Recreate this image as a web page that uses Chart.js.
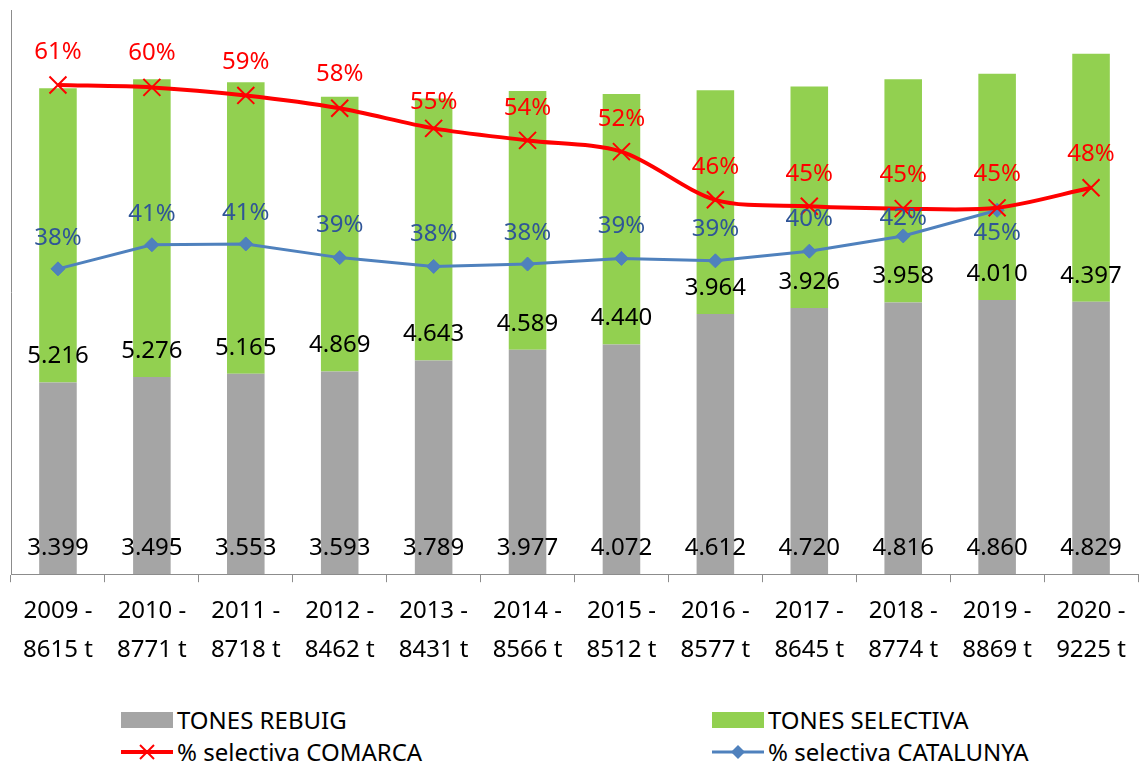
<!DOCTYPE html>
<html>
<head>
<meta charset="utf-8">
<script src="https://cdn.jsdelivr.net/npm/chart.js@4.4.1/dist/chart.umd.min.js"></script>
<style>
  html, body { margin: 0; background: #fff; font-family: "Noto Sans", sans-serif; overflow: hidden; width: 1139px; height: 767px; }
  #caixa { position: absolute; left: 0; top: 0; width: 1139px; height: 680px; }
  .item { position: absolute; height: 30px; display: flex; align-items: center; font-size: 24px; line-height: 30px; color: #000; white-space: nowrap; }
  .item svg { margin-right: 4px; }
</style>
</head>
<body>
<div id="caixa"><canvas id="grafic"></canvas></div>

<!-- llegenda a sota, en dues columnes -->
<div class="item" style="left:121px; top:705px;">
  <svg width="52" height="20"><rect x="0" y="2" width="52" height="16" fill="#A5A5A5"/></svg>TONES REBUIG
</div>
<div class="item" style="left:712px; top:705px;">
  <svg width="52" height="20"><rect x="0" y="2" width="52" height="16" fill="#92D050"/></svg>TONES SELECTIVA
</div>
<div class="item" style="left:121px; top:737px;">
  <svg width="52" height="20"><line x1="0" y1="10" x2="52" y2="10" stroke="#FF0000" stroke-width="4"/><line x1="19" y1="3" x2="33" y2="17" stroke="#FF0000" stroke-width="2"/><line x1="33" y1="3" x2="19" y2="17" stroke="#FF0000" stroke-width="2"/></svg>% selectiva COMARCA
</div>
<div class="item" style="left:712px; top:737px;">
  <svg width="52" height="20"><line x1="0" y1="10" x2="52" y2="10" stroke="#4F81BD" stroke-width="3"/><polygon points="26,3 33,10 26,17 19,10" fill="#4F81BD"/></svg>% selectiva CATALUNYA
</div>

<script>
// dades llegides del grafic
var anys = ['2009', '2010', '2011', '2012', '2013', '2014', '2015', '2016', '2017', '2018', '2019', '2020'];
var totals = ['8615 t', '8771 t', '8718 t', '8462 t', '8431 t', '8566 t', '8512 t', '8577 t', '8645 t', '8774 t', '8869 t', '9225 t'];
var tonesRebuig = [3399, 3495, 3553, 3593, 3789, 3977, 4072, 4612, 4720, 4816, 4860, 4829];
var tonesSelectiva = [5216, 5276, 5165, 4869, 4643, 4589, 4440, 3964, 3926, 3958, 4010, 4397];
var pctComarca = [0.605, 0.602, 0.592, 0.576, 0.551, 0.536, 0.522, 0.462, 0.454, 0.451, 0.452, 0.477];
var pctCatalunya = [0.376, 0.406, 0.407, 0.390, 0.379, 0.382, 0.389, 0.386, 0.398, 0.417, 0.449, null];

// desplaçament vertical de les etiquetes de percentatge (com estan al original)
var despComarca = [-33, -34, -33, -34, -26, -32, -32, -33, -32, -33, -34, -34];
var despCatalunya = [-31, -31, -31, -32, -32, -31, -32, -32, -32, -18, 23, 0];

var font = '"Noto Sans", sans-serif';

// etiquetes de l'eix x en dues linies
var etiquetesX = anys.map(function (a, i) { return [a + ' -', totals[i]]; });

function formatTones(n) {
  // separador de milers amb punt
  return Math.floor(n / 1000) + '.' + String(n % 1000).padStart(3, '0');
}

// plugin per dibuixar els valors damunt del grafic
var pluginEtiquetes = {
  id: 'etiquetes',
  afterDatasetsDraw: function (chart) {
    var ctx = chart.ctx;
    ctx.save();
    ctx.textAlign = 'center';
    ctx.textBaseline = 'middle';
    chart.data.datasets.forEach(function (ds, i) {
      var meta = chart.getDatasetMeta(i);
      meta.data.forEach(function (el, j) {
        var v = ds.data[j];
        if (v === null || v === undefined) return;
        if (ds.type === 'bar') {
          ctx.font = '24px ' + font;
          ctx.fillStyle = '#000';
          ctx.fillText(formatTones(v), el.x, el.base - 26);
        } else {
          ctx.font = '24px ' + font;
          ctx.fillStyle = ds.colorEtiqueta;
          ctx.fillText(Math.round(v * 100) + '%', el.x, el.y + ds.desplacament[j]);
        }
      });
    });
    ctx.restore();
  }
};

var ctx = document.getElementById('grafic').getContext('2d');
var grafic = new Chart(ctx, {
  type: 'bar',
  data: {
    labels: etiquetesX,
    datasets: [
      {
        type: 'bar',
        label: 'TONES REBUIG',
        data: tonesRebuig,
        backgroundColor: '#A5A5A5',
        barPercentage: 0.4,
        categoryPercentage: 1,
        yAxisID: 'y',
        order: 2
      },
      {
        type: 'bar',
        label: 'TONES SELECTIVA',
        data: tonesSelectiva,
        backgroundColor: '#92D050',
        barPercentage: 0.4,
        categoryPercentage: 1,
        yAxisID: 'y',
        order: 2
      },
      {
        type: 'line',
        label: '% selectiva COMARCA',
        data: pctComarca,
        borderColor: '#FF0000',
        backgroundColor: '#FF0000',
        borderWidth: 4,
        tension: 0.3,
        pointStyle: 'crossRot',
        pointRadius: 12,
        pointBorderWidth: 2,
        pointBorderColor: '#FF0000',
        yAxisID: 'y2',
        colorEtiqueta: '#FF0000',
        desplacament: despComarca,
        order: 0
      },
      {
        type: 'line',
        label: '% selectiva CATALUNYA',
        data: pctCatalunya,
        borderColor: '#4F81BD',
        backgroundColor: '#4F81BD',
        borderWidth: 3,
        tension: 0,
        pointStyle: 'rectRot',
        pointRadius: 7,
        pointBorderWidth: 1,
        yAxisID: 'y2',
        colorEtiqueta: '#2F5597',
        desplacament: despCatalunya,
        order: 1
      }
    ]
  },
  options: {
    responsive: true,
    maintainAspectRatio: false,
    animation: false,
    layout: { autoPadding: false, padding: { top: 10, left: 11, right: 1, bottom: 1 } },
    plugins: {
      legend: { display: false },
      tooltip: { enabled: false }
    },
    scales: {
      x: {
        stacked: true,
        grid: { display: true, drawOnChartArea: false, drawTicks: true, tickLength: 8, color: '#8C8C8C', offset: true },
        border: { display: true, color: '#8C8C8C', width: 1 },
        ticks: { color: '#000', font: { size: 24, family: font, lineHeight: 1.6 }, padding: 10, maxRotation: 0, autoSkip: false },
        afterFit: function (scale) {
          // sense marge extra per les etiquetes dels extrems
          scale.paddingLeft = 0;
          scale.paddingRight = 0;
        }
      },
      y: {
        stacked: true,
        min: 0,
        max: 10000,
        ticks: { display: false },
        grid: { display: false },
        border: { display: true, color: '#8C8C8C', width: 1 },
        afterFit: function (scale) { scale.width = 0; }
      },
      y2: {
        display: false,
        position: 'right',
        min: -0.0043,
        max: 0.6984,
        stacked: false
      }
    }
  },
  plugins: [pluginEtiquetes]
});
</script>
</body>
</html>
